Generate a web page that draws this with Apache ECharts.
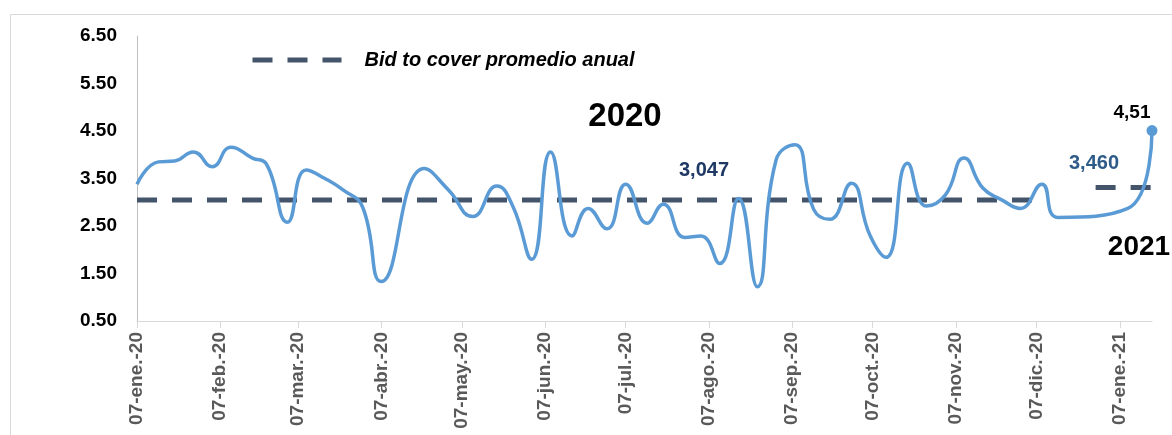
<!DOCTYPE html>
<html><head><meta charset="utf-8">
<script src="https://cdn.jsdelivr.net/npm/echarts@6/dist/echarts.min.js"></script>
<style>html,body{margin:0;padding:0;background:#fff}#c{width:1172px;height:435px}</style>
</head><body><div id="c"></div>
<script>
// ---- data ----
const dates = ['2020-01-07','2020-01-15','2020-01-21','2020-01-28','2020-02-04','2020-02-11','2020-02-19','2020-02-24','2020-03-03','2020-03-10',
  '2020-03-17','2020-03-24','2020-03-31','2020-04-07','2020-04-23','2020-05-02','2020-05-11','2020-05-20','2020-05-26','2020-06-02',
  '2020-06-09','2020-06-17','2020-06-23','2020-06-30','2020-07-07','2020-07-15','2020-07-21','2020-07-29','2020-08-04','2020-08-11',
  '2020-08-18','2020-08-25','2020-09-01','2020-09-08','2020-09-15','2020-09-21','2020-09-29','2020-10-06','2020-10-12','2020-10-20',
  '2020-10-27','2020-11-03','2020-11-10','2020-11-17','2020-11-24','2020-12-01','2020-12-09','2020-12-15','2021-01-10','2021-01-19'];
const values = [3.38,3.85,3.87,4.06,3.75,4.16,3.93,3.82,2.58,3.68,
  3.50,3.25,2.90,1.33,3.71,3.26,2.70,3.34,2.91,1.80,
  4.06,2.29,2.87,2.44,3.38,2.56,2.96,2.26,2.29,1.71,
  3.08,1.22,3.89,4.21,2.85,2.64,3.40,2.30,1.84,3.82,
  2.92,3.15,3.93,3.30,3.05,2.87,3.38,2.68,2.87,4.51];
const avg2020Dates = ['2020-01-07','2020-12-11'];
const avg2020Values = [3.047,3.047];
const avg2021Dates = ['2020-12-29','2021-01-28'];
const avg2021Values = [3.31,3.31];
const tickDates = ['2020-01-07','2020-02-07','2020-03-07','2020-04-07','2020-05-07','2020-06-07','2020-07-07',
  '2020-08-07','2020-09-07','2020-10-07','2020-11-07','2020-12-07','2021-01-07'];
const tickLabels = ['07-ene.-20','07-feb.-20','07-mar.-20','07-abr.-20','07-may.-20','07-jun.-20','07-jul.-20',
  '07-ago.-20','07-sep.-20','07-oct.-20','07-nov.-20','07-dic.-20','07-ene.-21'];
const axisStart = '2020-01-07', axisEnd = '2021-01-19';
const yMin = 0.5, yMax = 6.5, yStep = 1;
const lastLabel = '4,51';
const avgLabels = ['3,047','3,460'];
const yearLabels = ['2020','2021'];
const legendName = 'Bid to cover promedio anual';

function ts(s){const p=s.split('-');return new Date(+p[0],+p[1]-1,+p[2]).getTime();}
const pairs = (d,v)=>d.map((x,i)=>[ts(x),v[i]]);
const tickTs = tickDates.map(ts);
const FONT = 'Liberation Sans';

const chart = echarts.init(document.getElementById('c'), null, {renderer:'canvas'});
chart.setOption({
  animation:false,
  backgroundColor:'#fff',
  grid:{left:137,right:20,top:36,bottom:114,containLabel:false},
  legend:{
    data:[legendName], left:250, top:50, padding:0, itemWidth:89, itemHeight:20,
    lineStyle:{width:5}, itemStyle:{opacity:0},
    textStyle:{fontFamily:FONT,fontSize:20,fontWeight:'bold',fontStyle:'italic',color:'#000',padding:[0,0,0,18]}
  },
  xAxis:{
    type:'value', min:ts(axisStart), max:ts(axisEnd),
    axisLine:{lineStyle:{color:'#D9D9D9',width:1}},
    axisTick:{show:true,length:7,lineStyle:{color:'#D9D9D9'},customValues:tickTs},
    splitLine:{show:false},
    axisLabel:{
      customValues:tickTs, rotate:90, margin:11,
      fontFamily:FONT,fontSize:19,fontWeight:'bold',color:'#595959',
      formatter:function(v){const i=tickTs.indexOf(v);return i>=0?tickLabels[i]:'';}
    }
  },
  yAxis:{
    type:'value', min:yMin, max:yMax, interval:yStep,
    axisLine:{show:true,lineStyle:{color:'#BFBFBF',width:1}},
    axisTick:{show:false}, splitLine:{show:false},
    axisLabel:{margin:20,fontFamily:FONT,fontSize:19,fontWeight:'bold',color:'#000',
      formatter:v=>v.toFixed(2)}
  },
  series:[
    {name:legendName,type:'line',data:pairs(avg2020Dates,avg2020Values),symbol:'none',z:2,
      lineStyle:{color:'#44546A',width:5,type:[20,15]},itemStyle:{color:'#44546A'}},
    {name:'avg2021',type:'line',data:pairs(avg2021Dates,avg2021Values),symbol:'none',z:2,clip:false,
      lineStyle:{color:'#44546A',width:5,type:[20,15]},itemStyle:{color:'#44546A'}},
    {name:'bid',type:'line',data:pairs(dates,values),smooth:0.5,symbol:'none',z:3,
      lineStyle:{color:'#5B9BD5',width:3.5},itemStyle:{color:'#5B9BD5'}},
    {name:'last',type:'scatter',data:[[ts(dates[dates.length-1]),values[values.length-1]]],
      symbol:'circle',symbolSize:11,z:4,itemStyle:{color:'#5B9BD5',opacity:1},clip:false,
      label:{show:true,position:'top',distance:5,offset:[-20,2],formatter:lastLabel,
        fontFamily:FONT,fontSize:19,fontWeight:'bold',color:'#000'}}
  ],
  graphic:[
    {type:'rect',left:8,top:12,shape:{width:1300,height:600},style:{fill:'none',stroke:'#D9D9D9',lineWidth:1},silent:true,z:-1},
    {type:'text',x:625,y:117,style:{text:yearLabels[0],fontFamily:FONT,fontSize:33,fontWeight:'bold',fill:'#000',align:'center',verticalAlign:'middle'}},
    {type:'text',x:1139,y:247,style:{text:yearLabels[1],fontFamily:FONT,fontSize:28,fontWeight:'bold',fill:'#000',align:'center',verticalAlign:'middle'}},
    {type:'text',x:704,y:170,style:{text:avgLabels[0],fontFamily:FONT,fontSize:20,fontWeight:'bold',fill:'#1F3864',align:'center',verticalAlign:'middle'}},
    {type:'text',x:1094,y:163,style:{text:avgLabels[1],fontFamily:FONT,fontSize:20,fontWeight:'bold',fill:'#2E5B8A',align:'center',verticalAlign:'middle'}}
  ]
});
</script></body></html>
